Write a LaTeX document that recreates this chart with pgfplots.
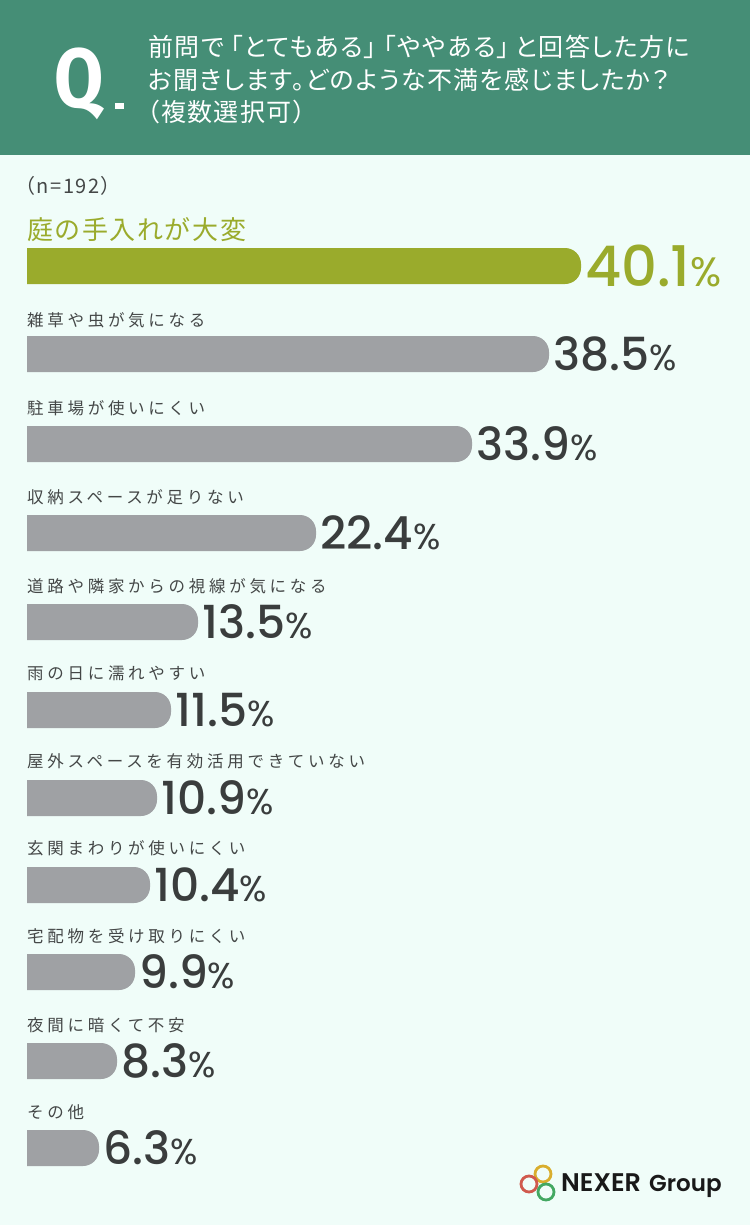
\documentclass[border=0pt]{standalone}
\usepackage{fontspec}
\usepackage{pgfplots}
\usepackage{pgfplotstable}
\pgfplotsset{compat=1.18}
\setmainfont{Noto Sans CJK JP}
\newfontfamily\cjklab[LetterSpace=22.5]{Noto Sans CJK JP}
\newfontfamily\cjktop[LetterSpace=6]{Noto Sans CJK JP}
\newfontfamily\cjkhead[LetterSpace=5.6,RawFeature=+palt]{Noto Sans CJK JP}
\newfontfamily\cjkn[LetterSpace=8,RawFeature=+palt]{Noto Sans CJK JP}
\newfontfamily\numf{Poppins Medium}
\newfontfamily\numr{Poppins}
\newfontfamily\logof{Poppins SemiBold}
\newfontfamily\qf{Fira Sans}
\definecolor{bg}{HTML}{F0FDF9}
\definecolor{hd}{HTML}{458E76}
\definecolor{gr}{HTML}{9FA1A4}
\definecolor{ol}{HTML}{9AAB2C}
\definecolor{ink}{HTML}{3A3D3D}
\definecolor{lab}{HTML}{444747}
% y = bar centre (px from top), end = bar end (px from left), pct = printed value
\pgfplotstableread{
y end pct
266 581 40.1
}\tabtop
\pgfplotstableread{
y end pct
354 549 38.5
444 472 33.9
533 316 22.4
622 198 13.5
710 171 11.5
798 157 10.9
885 150 10.4
972 135 9.9
1061 117 8.3
1148 99 6.3
}\tabrest
\begin{document}
\begin{tikzpicture}[x=1pt,y=1pt]
\useasboundingbox (0,0) rectangle (750,1225);
\fill[bg] (0,0) rectangle (750,1225);
\begin{axis}[
  at={(0pt,0pt)},anchor=south west,
  scale only axis,width=750pt,height=1225pt,
  xmin=0,xmax=750,ymin=0,ymax=1225,y dir=reverse,
  axis line style={draw=none},
  major tick length=0pt,
  xtick=\empty,
  ytick={230,320,408,497,586,673,761,848,936,1025,1112},
  yticklabels={{\cjktop\fontsize{26}{26}\selectfont\color{ol}庭の手入れが大変},雑草や虫が気になる,駐車場が使いにくい,収納スペースが足りない,道路や隣家からの視線が気になる,雨の日に濡れやすい,屋外スペースを有効活用できていない,玄関まわりが使いにくい,宅配物を受け取りにくい,夜間に暗くて不安,その他},
  yticklabel style={anchor=west,inner sep=0pt,xshift=27pt,text=lab,font=\cjklab\fontsize{16.5}{16.5}\selectfont},
  xbar,bar width=36pt,bar shift=0pt,
  point meta=explicit symbolic,
  nodes near coords style={anchor=west,inner sep=0pt,xshift=4pt},
]
\addplot[fill=ol,draw=none,rounded corners=16pt,
  nodes near coords={\numf\fontsize{56}{56}\selectfont\pgfplotspointmeta{\numr\fontsize{41}{41}\selectfont\%}},
  nodes near coords style={text=ol}]
  table[x=end,y=y,meta=pct]{\tabtop};
\addplot[fill=gr,draw=none,rounded corners=16pt,
  nodes near coords={\numf\fontsize{45.5}{45.5}\selectfont\pgfplotspointmeta{\numr\fontsize{36}{36}\selectfont\%}},
  nodes near coords style={text=ink}]
  table[x=end,y=y,meta=pct]{\tabrest};
\end{axis}
% margin left of the bars (the bars' square left edge)
\fill[bg] (0,0) rectangle (27,1070);
\fill[hd] (0,1070) rectangle (750,1225);
\node[anchor=base west,inner sep=0,text=white,xscale=.85,font=\qf\fontsize{84}{84}\selectfont\bfseries] at (54,1117) {Q};
\fill[white] (115,1116) rectangle (124,1122);
\node[anchor=base west,inner sep=0,text=white,font=\cjkhead\fontsize{25}{25}\selectfont] at (148,1168) {前問で\hspace{6pt}「とてもある」\hspace{7pt}「ややある」\hspace{6pt}と回答した方に};
\node[anchor=base west,inner sep=0,text=white,font=\cjkhead\fontsize{25}{25}\selectfont] at (148,1135) {お聞きします。どのような不満を感じましたか？};
\node[anchor=base west,inner sep=0,text=white,font=\cjkhead\fontsize{25}{25}\selectfont] at (147,1103) {（複数選択可）};
\node[anchor=base west,inner sep=0,text=lab,font=\cjkn\fontsize{20}{20}\selectfont] at (25,1031) {（n=192）};
\draw[line width=2.8pt,draw={rgb,255:red,217;green,174;blue,46}] (543,51) circle (8);
\draw[line width=2.8pt,draw={rgb,255:red,208;green,90;blue,78}] (529,41) circle (8);
\draw[line width=2.8pt,draw={rgb,255:red,67;green,168;blue,98}] (546,33) circle (8);
\node[anchor=base west,inner sep=0,font=\logof\fontsize{25.5}{25.5}\selectfont,text=black!90] at (561,33) {NEXER};
\node[anchor=base west,inner sep=0,font=\logof\fontsize{23}{23}\selectfont,text=black!90] at (649,33) {Group};
\end{tikzpicture}
\end{document}
